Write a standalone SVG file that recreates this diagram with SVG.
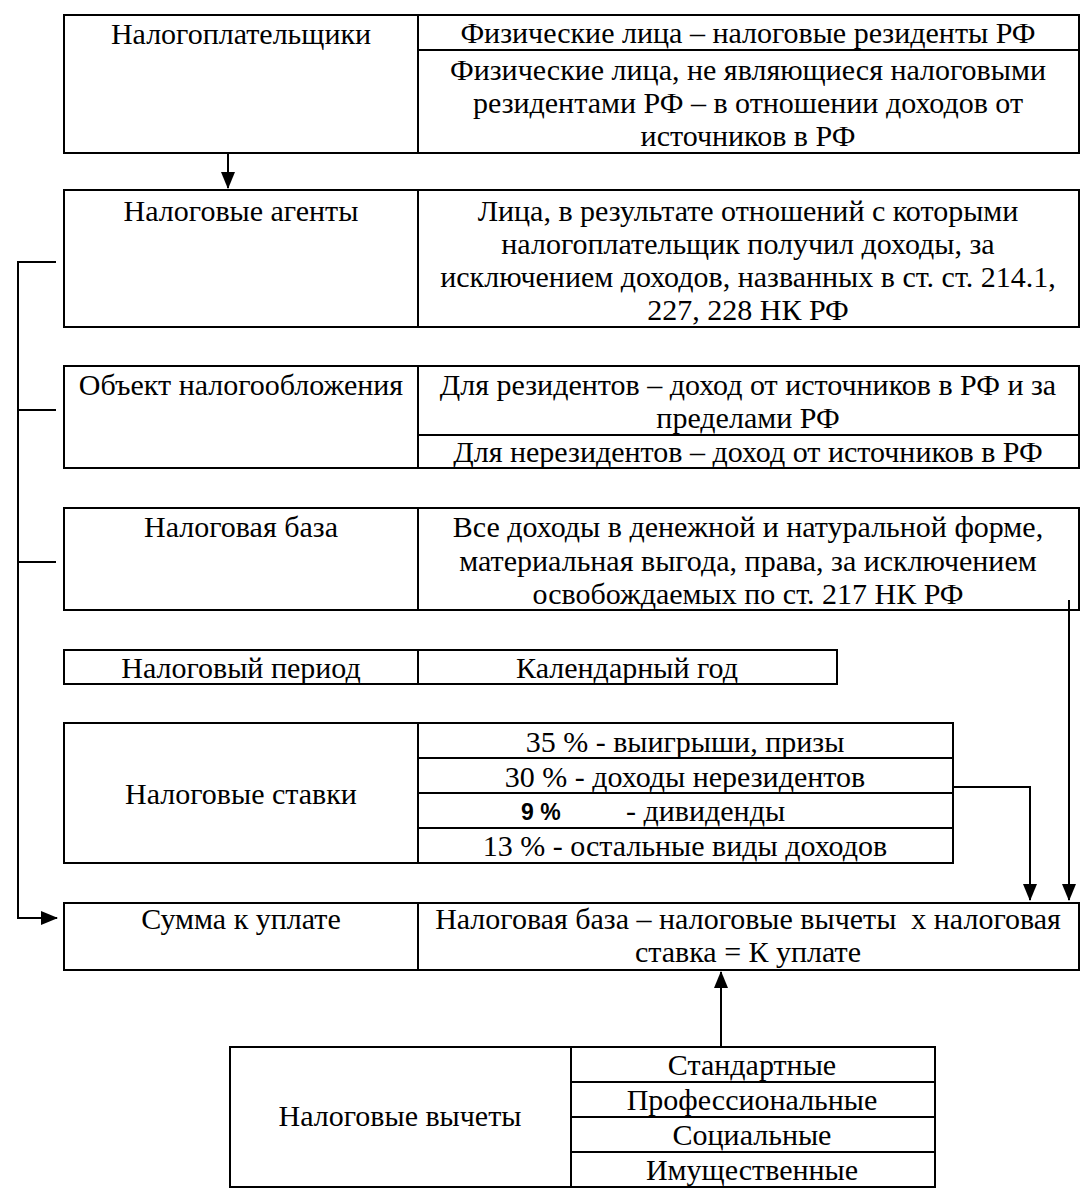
<svg xmlns="http://www.w3.org/2000/svg" width="1090" height="1203" viewBox="0 0 1090 1203">
<defs>
<style>
.b{fill:none;stroke:#000;stroke-width:2}
.l{fill:none;stroke:#000;stroke-width:2}
.t{font-family:'Liberation Serif','DejaVu Serif',serif;font-size:30px;fill:#000;text-anchor:middle}
.s{font-family:'Liberation Sans',Arial,sans-serif;font-weight:bold;font-size:23px;fill:#000}
.st{font-family:'Liberation Serif','DejaVu Serif',serif;font-size:30px;fill:#000}
</style>
<marker id="ah" markerWidth="17" markerHeight="14" refX="16" refY="7" orient="auto" markerUnits="userSpaceOnUse">
<path d="M0,0 L17,7 L0,14 Z" fill="#000"/>
</marker>
</defs>
<rect width="1090" height="1203" fill="#fff"/>

<g id="n1">
<rect class="b" x="64" y="15" width="1015" height="138"/>
<line class="b" x1="418" y1="15" x2="418" y2="153"/>
<line class="b" x1="418" y1="50" x2="1079" y2="50"/>
<text class="t" x="241" y="44">Налогоплательщики</text>
<text class="t" x="748" y="43">Физические лица – налоговые резиденты РФ</text>
<text class="t" x="748" y="80">Физические лица, не являющиеся налоговыми</text>
<text class="t" x="748" y="113">резидентами РФ – в отношении доходов от</text>
<text class="t" x="748" y="146">источников в РФ</text>
</g>

<g id="n2">
<rect class="b" x="64" y="190" width="1015" height="137"/>
<line class="b" x1="418" y1="190" x2="418" y2="327"/>
<text class="t" x="241" y="221">Налоговые агенты</text>
<text class="t" x="748" y="221">Лица, в результате отношений с которыми</text>
<text class="t" x="748" y="254">налогоплательщик получил доходы, за</text>
<text class="t" x="748" y="287">исключением доходов, названных в ст. ст. 214.1,</text>
<text class="t" x="748" y="320">227, 228 НК РФ</text>
</g>

<g id="n3">
<rect class="b" x="64" y="366" width="1015" height="102"/>
<line class="b" x1="418" y1="366" x2="418" y2="468"/>
<line class="b" x1="418" y1="435" x2="1079" y2="435"/>
<text class="t" x="241" y="395">Объект налогообложения</text>
<text class="t" x="748" y="395">Для резидентов – доход от источников в РФ и за</text>
<text class="t" x="748" y="428">пределами РФ</text>
<text class="t" x="748" y="462">Для нерезидентов – доход от источников в РФ</text>
</g>

<g id="n4">
<rect class="b" x="64" y="508" width="1015" height="102"/>
<line class="b" x1="418" y1="508" x2="418" y2="610"/>
<text class="t" x="241" y="537">Налоговая база</text>
<text class="t" x="748" y="537">Все доходы в денежной и натуральной форме,</text>
<text class="t" x="748" y="571">материальная выгода, права, за исключением</text>
<text class="t" x="748" y="604">освобождаемых по ст. 217 НК РФ</text>
</g>

<g id="n5">
<rect class="b" x="64" y="650" width="773" height="34"/>
<line class="b" x1="418" y1="650" x2="418" y2="684"/>
<text class="t" x="241" y="678">Налоговый период</text>
<text class="t" x="627" y="678">Календарный год</text>
</g>

<g id="n6">
<rect class="b" x="64" y="723" width="889" height="140"/>
<line class="b" x1="418" y1="723" x2="418" y2="863"/>
<line class="b" x1="418" y1="758" x2="953" y2="758"/>
<line class="b" x1="418" y1="793" x2="953" y2="793"/>
<line class="b" x1="418" y1="828" x2="953" y2="828"/>
<text class="t" x="241" y="804">Налоговые ставки</text>
<text class="t" x="685" y="752">35 % - выигрыши, призы</text>
<text class="t" x="685" y="787">30 % - доходы нерезидентов</text>
<text class="s" x="521" y="820">9 %</text>
<text class="st" x="626" y="821">- дивиденды</text>
<text class="t" x="685" y="856">13 % - остальные виды доходов</text>
</g>

<g id="n7">
<rect class="b" x="64" y="903" width="1015" height="67"/>
<line class="b" x1="418" y1="903" x2="418" y2="970"/>
<text class="t" x="241" y="929">Сумма к уплате</text>
<text class="t" x="748" y="929" style="white-space:pre">Налоговая база – налоговые вычеты  х налоговая</text>
<text class="t" x="748" y="962">ставка = К уплате</text>
</g>

<g id="n8">
<rect class="b" x="230" y="1047" width="705" height="140"/>
<line class="b" x1="571" y1="1047" x2="571" y2="1187"/>
<line class="b" x1="571" y1="1082" x2="935" y2="1082"/>
<line class="b" x1="571" y1="1117" x2="935" y2="1117"/>
<line class="b" x1="571" y1="1152" x2="935" y2="1152"/>
<text class="t" x="400" y="1126">Налоговые вычеты</text>
<text class="t" x="752" y="1075">Стандартные</text>
<text class="t" x="752" y="1110">Профессиональные</text>
<text class="t" x="752" y="1145">Социальные</text>
<text class="t" x="752" y="1180">Имущественные</text>
</g>

<g id="connectors">
<line class="l" x1="228" y1="153" x2="228" y2="188" marker-end="url(#ah)"/>
<polyline class="l" points="56,262 18,262 18,918 57,918" marker-end="url(#ah)"/>
<line class="l" x1="18" y1="410" x2="56" y2="410"/>
<line class="l" x1="18" y1="562" x2="56" y2="562"/>
<line class="l" x1="1069" y1="600" x2="1069" y2="900" marker-end="url(#ah)"/>
<polyline class="l" points="953,787 1030,787 1030,900" marker-end="url(#ah)"/>
<line class="l" x1="721" y1="1047" x2="721" y2="972" marker-end="url(#ah)"/>
</g>
</svg>
